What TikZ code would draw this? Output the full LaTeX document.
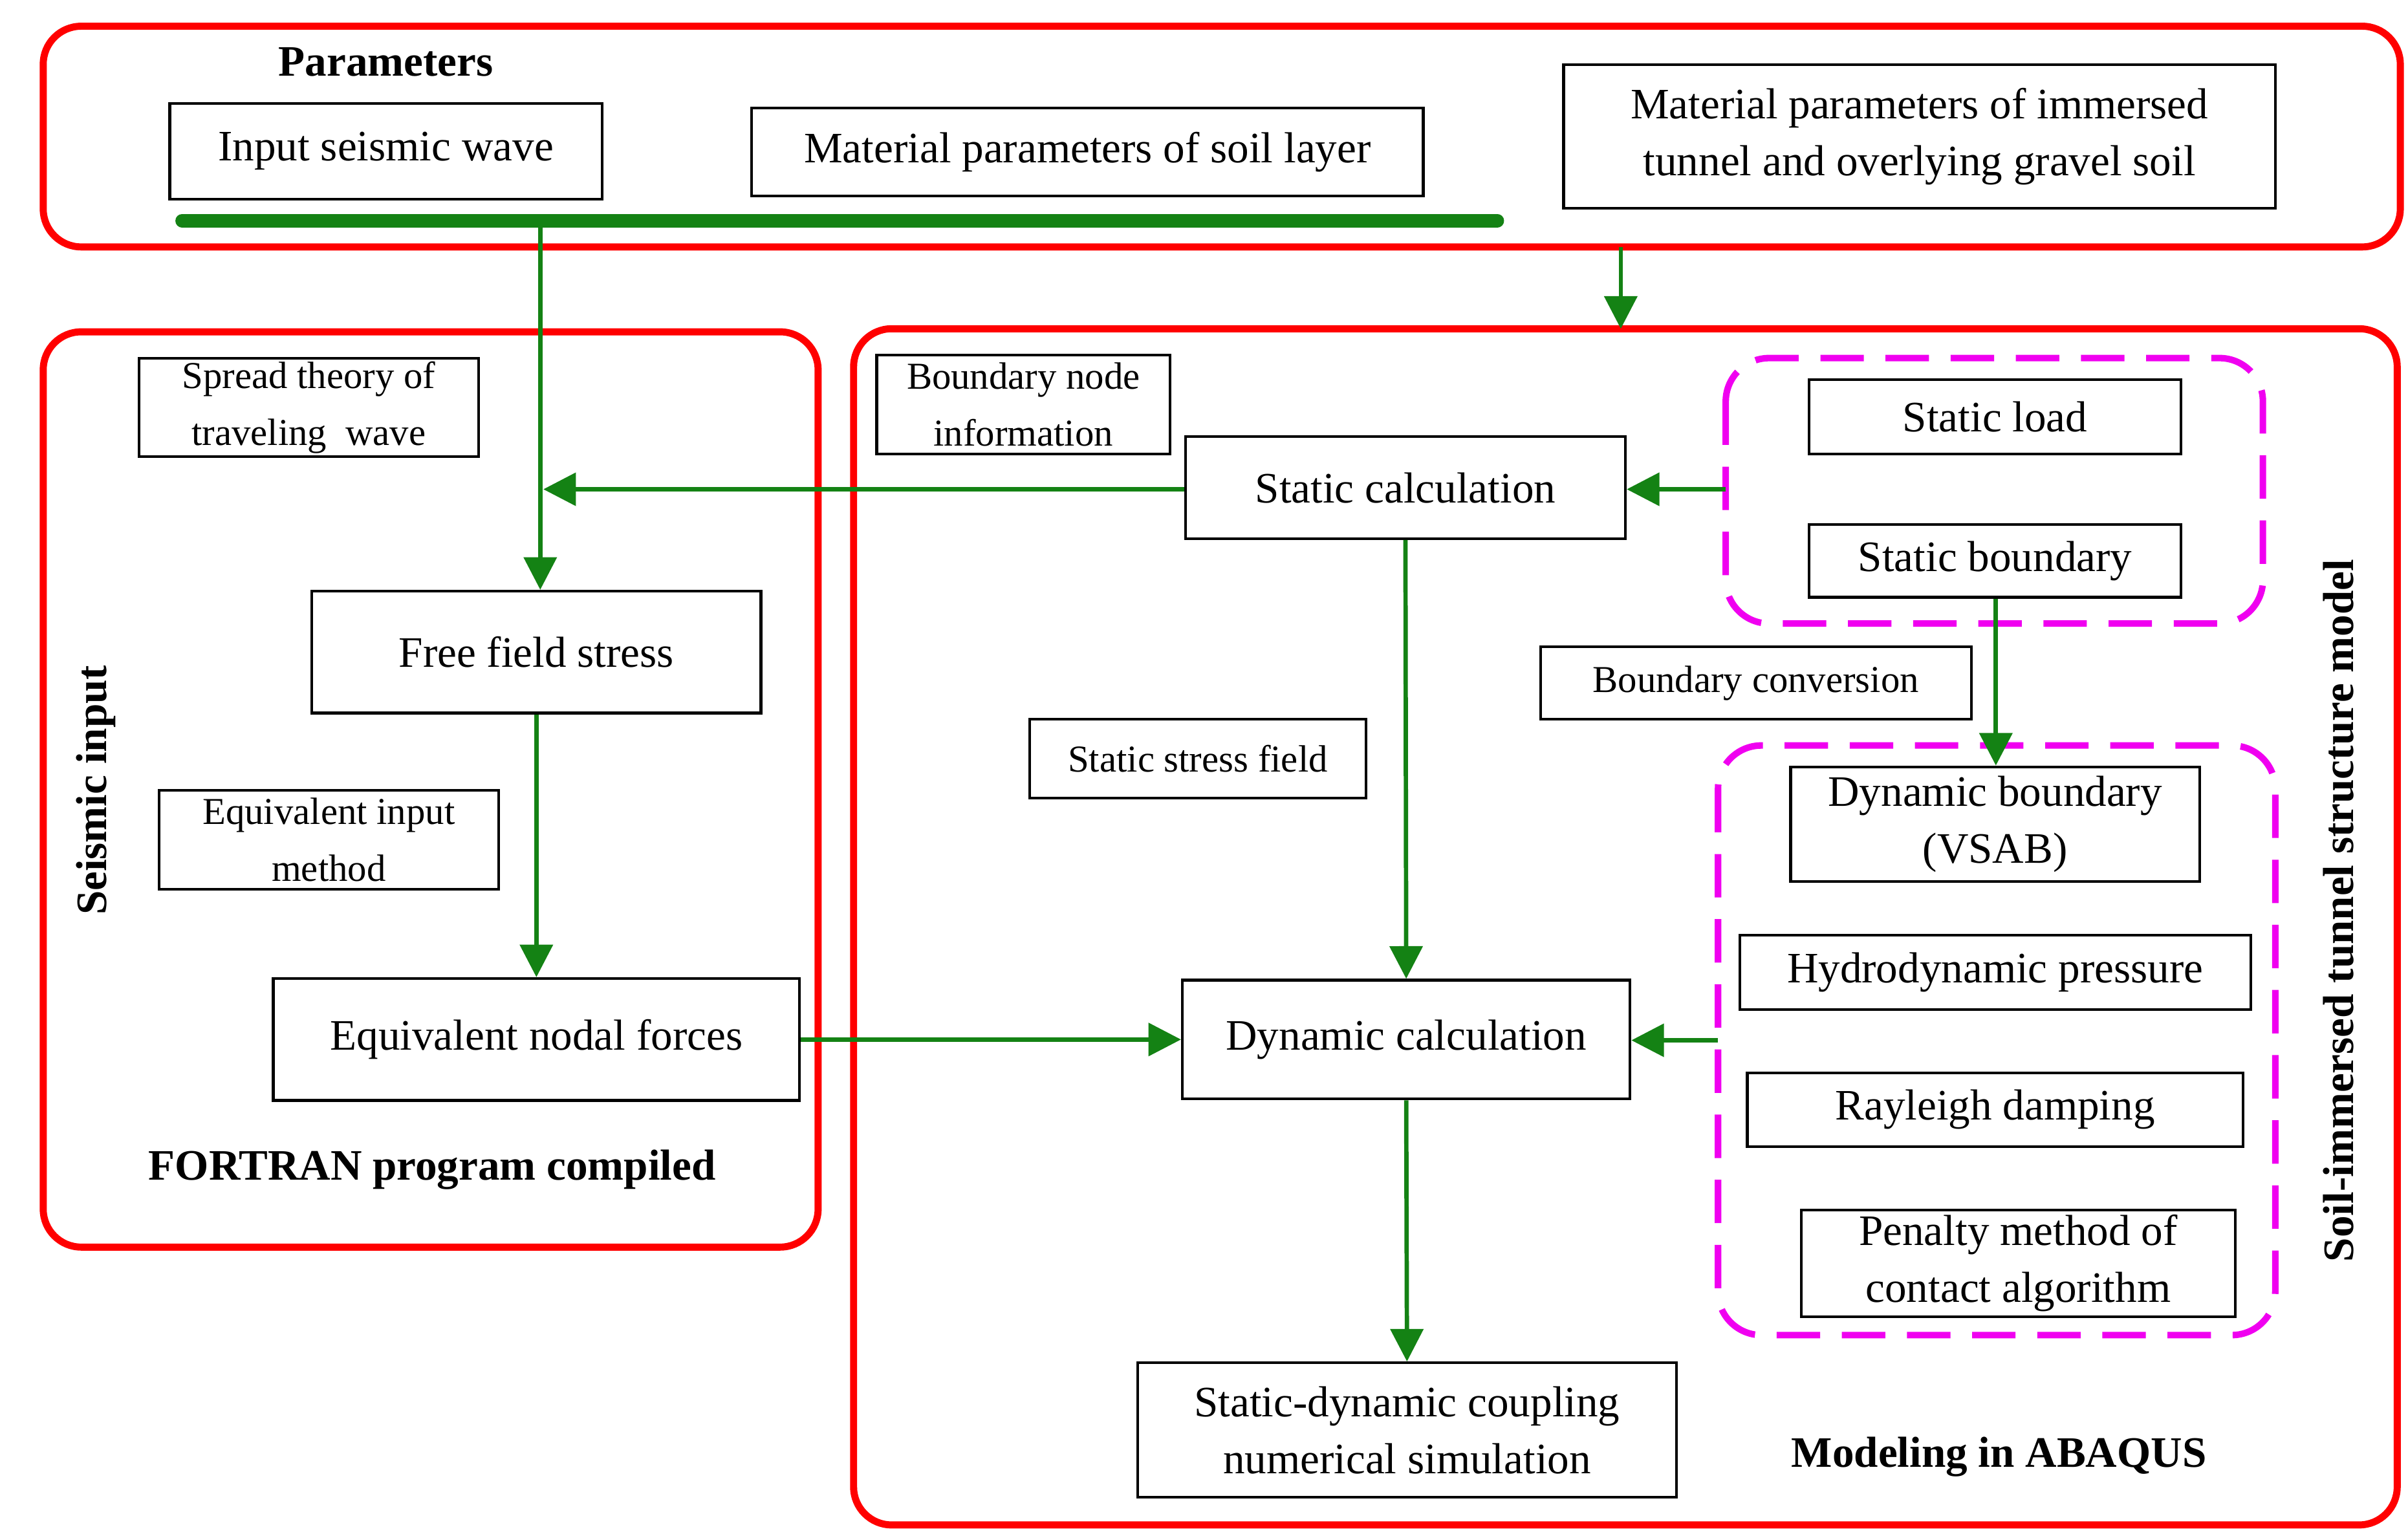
\documentclass[tikz,border=0pt]{standalone}
\usepackage{fontspec}
\setmainfont{Liberation Serif}
\usetikzlibrary{arrows.meta}
\definecolor{gr}{RGB}{20,130,20}
\definecolor{mg}{RGB}{240,0,240}
\begin{document}
\begin{tikzpicture}[x=0.01cm,y=-0.01cm,font=\fontsize{8pt}{10.5pt}\selectfont,
 box/.style={draw,line width=0.5pt,inner sep=0pt,align=center},
 red/.style={draw=red,line width=1.3pt,rounded corners=7pt},
 mag/.style={draw=mg,line width=1.2pt,dashed,dash pattern=on 8pt off 4pt,rounded corners=8pt},
 arr/.style={draw=gr,line width=0.8pt,-{Triangle[length=6pt,width=6pt]}},
 lab/.style={font=\fontsize{8pt}{10pt}\selectfont\bfseries}]
\useasboundingbox (0,0) rectangle (1560,995);
\newcommand\bx[6]{\node[box,minimum width=#4*0.01cm-#2*0.01cm,minimum height=#5*0.01cm-#3*0.01cm] (#1) at ({(#2+#4)/2},{(#3+#5)/2}) {#6};}
\draw[red] (28,17) rectangle (1555,160);
\draw[red] (28,215) rectangle (530,808);
\draw[red] (553,213) rectangle (1553,988);
\draw[mag] (1118,232) rectangle (1466,404);
\draw[mag] (1113,483) rectangle (1474,865);
\node[lab] (par) at (250,40) {Parameters};
\node[lab] (fort) at (280,758) {FORTRAN program compiled};
\node[lab] (abq) at (1295,944) {Modeling in ABAQUS};
\node[lab,rotate=90] (si) at (62,512) {Seismic input};
\node[lab,rotate=90] (stm) at (1515,590) {Soil-immersed tunnel structure model};
\bx{isw}{110}{67}{390}{129}{Input seismic wave}
\bx{msl}{487}{70}{922}{127}{Material parameters of soil layer}
\bx{mit}{1013}{42}{1474}{135}{Material parameters of immersed\\tunnel and overlying gravel soil}
\bx{spr}{90}{232}{310}{296}{\fontsize{7pt}{8.5pt}\selectfont Spread theory of\\\fontsize{7pt}{8.5pt}\selectfont traveling\ \ wave}
\bx{bni}{568}{230}{758}{294}{\fontsize{7pt}{8.5pt}\selectfont Boundary node\\\fontsize{7pt}{8.5pt}\selectfont information}
\bx{sc}{768}{283}{1053}{349}{Static calculation}
\bx{sl}{1172}{246}{1413}{294}{Static load}
\bx{sb}{1172}{340}{1413}{387}{Static boundary}
\bx{ffs}{202}{383}{493}{462}{Free field stress}
\bx{eim}{103}{512}{323}{576}{\fontsize{7pt}{8.5pt}\selectfont Equivalent input\\\fontsize{7pt}{8.5pt}\selectfont method}
\bx{enf}{177}{634}{518}{713}{Equivalent nodal forces}
\bx{dc}{766}{635}{1056}{712}{Dynamic calculation}
\bx{ssf}{667}{466}{885}{517}{\fontsize{7pt}{8.5pt}\selectfont Static stress field}
\bx{bc}{998}{419}{1277}{466}{\fontsize{7pt}{8.5pt}\selectfont Boundary conversion}
\bx{db}{1160}{497}{1425}{571}{Dynamic boundary\\(VSAB)}
\bx{hp}{1127}{606}{1458}{654}{Hydrodynamic pressure}
\bx{rd}{1132}{695}{1453}{743}{Rayleigh damping}
\bx{pm}{1167}{784}{1448}{853}{Penalty method of\\contact algorithm}
\bx{sdc}{737}{883}{1086}{970}{Static-dynamic coupling\\numerical simulation}
\coordinate (g1) at (118,143); \coordinate (g2) at (970,143);
\draw[gr,line width=2.5pt,line cap=round] (g1) -- (g2);
\coordinate (gs) at (350,143);
\draw[arr] (gs) -- (ffs.north -| gs);
\coordinate (t1) at (1050,160); \coordinate (t2) at (1050,213);
\draw[arr] (t1) -- (t2);
\coordinate (m1) at (1118,317);
\draw[arr] (m1) -- (sc.east |- m1);
\coordinate (l1) at (352,317);
\draw[arr] (sc.west |- l1) -- (l1);
\draw[arr] (ffs.south) -- (enf.north);
\draw[arr] (enf.east) -- (dc.west);
\draw[arr] (sc.south) -- (dc.north);
\coordinate (d1) at (1293,496);
\draw[arr] (sb.south -| d1) -- (d1);
\coordinate (m2) at (1113,674);
\draw[arr] (m2) -- (dc.east |- m2);
\draw[arr] (dc.south) -- (sdc.north);
\end{tikzpicture}
\end{document}
